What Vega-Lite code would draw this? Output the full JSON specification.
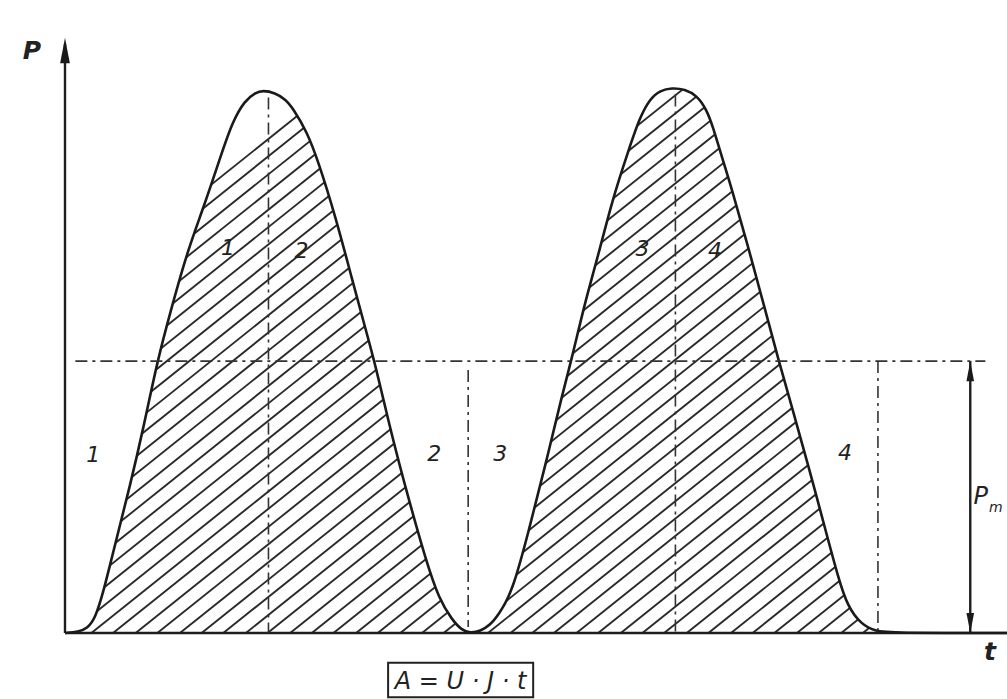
{
  "$schema": "https://vega.github.io/schema/vega-lite/v6.json",
  "width": 942,
  "height": 595,
  "autosize": "none",
  "padding": {"left": 65, "top": 38, "right": 0, "bottom": 66},
  "background": "white",
  "config": {"view": {"stroke": null}},
  "datasets": {
    "curve": [
      {"t": 0, "p": 0}, {"t": 0.14, "p": 0.02}, {"t": 0.24, "p": 0.08}, {"t": 0.32, "p": 0.25},
      {"t": 0.40, "p": 0.64}, {"t": 0.53, "p": 1.48}, {"t": 0.69, "p": 2.47}, {"t": 0.84, "p": 3.50},
      {"t": 0.98, "p": 4.57}, {"t": 1.13, "p": 5.46}, {"t": 1.30, "p": 6.42}, {"t": 1.48, "p": 7.19},
      {"t": 1.66, "p": 8.05}, {"t": 1.78, "p": 8.60}, {"t": 1.91, "p": 8.95}, {"t": 2.02, "p": 9.08},
      {"t": 2.10, "p": 9.12}, {"t": 2.23, "p": 9.08}, {"t": 2.34, "p": 8.97}, {"t": 2.42, "p": 8.82},
      {"t": 2.57, "p": 8.42}, {"t": 2.69, "p": 7.92}, {"t": 2.87, "p": 7.01},
      {"t": 3.05, "p": 5.93}, {"t": 3.19, "p": 5.11}, {"t": 3.29, "p": 4.54}, {"t": 3.47, "p": 3.31},
      {"t": 3.65, "p": 2.24}, {"t": 3.83, "p": 1.23}, {"t": 3.97, "p": 0.57}, {"t": 4.11, "p": 0.22},
      {"t": 4.21, "p": 0.05}, {"t": 4.30, "p": 0}, {"t": 4.41, "p": 0.03}, {"t": 4.51, "p": 0.13},
      {"t": 4.60, "p": 0.30}, {"t": 4.75, "p": 0.69}, {"t": 4.92, "p": 1.70}, {"t": 5.10, "p": 2.82},
      {"t": 5.28, "p": 4.02}, {"t": 5.38, "p": 4.61}, {"t": 5.52, "p": 5.56}, {"t": 5.66, "p": 6.34},
      {"t": 5.81, "p": 7.28}, {"t": 5.98, "p": 8.10}, {"t": 6.10, "p": 8.66}, {"t": 6.21, "p": 8.98},
      {"t": 6.32, "p": 9.12}, {"t": 6.44, "p": 9.16}, {"t": 6.58, "p": 9.14}, {"t": 6.71, "p": 9.03},
      {"t": 6.81, "p": 8.80}, {"t": 6.88, "p": 8.50}, {"t": 6.95, "p": 8.12},
      {"t": 7.08, "p": 7.46}, {"t": 7.25, "p": 6.50}, {"t": 7.43, "p": 5.45}, {"t": 7.57, "p": 4.61},
      {"t": 7.72, "p": 3.78}, {"t": 7.89, "p": 2.82}, {"t": 8.07, "p": 1.75}, {"t": 8.21, "p": 0.92},
      {"t": 8.31, "p": 0.44}, {"t": 8.45, "p": 0.15}, {"t": 8.60, "p": 0.03}, {"t": 8.76, "p": 0},
      {"t": 10, "p": 0}
    ],
    "hatch": [
      {"a": -4.40, "b": 3.50}, {"a": -4.17, "b": 3.73}, {"a": -3.93, "b": 3.97}, {"a": -3.70, "b": 4.20},
      {"a": -3.46, "b": 4.44}, {"a": -3.23, "b": 4.67}, {"a": -3.00, "b": 4.90}, {"a": -2.76, "b": 5.14},
      {"a": -2.53, "b": 5.37}, {"a": -2.29, "b": 5.61}, {"a": -2.06, "b": 5.84}, {"a": -1.83, "b": 6.07},
      {"a": -1.59, "b": 6.31}, {"a": -1.36, "b": 6.54}, {"a": -1.12, "b": 6.78}, {"a": -0.89, "b": 7.01},
      {"a": -0.66, "b": 7.24}, {"a": -0.42, "b": 7.48}, {"a": -0.19, "b": 7.71}, {"a": 0.05, "b": 7.95},
      {"a": 0.28, "b": 8.18}, {"a": 0.51, "b": 8.41}, {"a": 0.75, "b": 8.65}, {"a": 0.98, "b": 8.88},
      {"a": 1.22, "b": 9.12}, {"a": 1.45, "b": 9.35}, {"a": 1.68, "b": 9.58}, {"a": 1.92, "b": 9.82},
      {"a": 2.15, "b": 10.05}, {"a": 2.39, "b": 10.29}, {"a": 2.62, "b": 10.52}, {"a": 2.85, "b": 10.75},
      {"a": 3.09, "b": 10.99}, {"a": 3.32, "b": 11.22}, {"a": 3.56, "b": 11.46}, {"a": 3.79, "b": 11.69},
      {"a": 4.02, "b": 11.92}, {"a": 4.26, "b": 12.16}, {"a": 4.49, "b": 12.39}, {"a": 4.73, "b": 12.63},
      {"a": 4.96, "b": 12.86}, {"a": 5.19, "b": 13.09}, {"a": 5.43, "b": 13.33}, {"a": 5.66, "b": 13.56},
      {"a": 5.90, "b": 13.80}, {"a": 6.13, "b": 14.03}, {"a": 6.36, "b": 14.26}, {"a": 6.60, "b": 14.50},
      {"a": 6.83, "b": 14.73}, {"a": 7.07, "b": 14.97}, {"a": 7.30, "b": 15.20}, {"a": 7.53, "b": 15.43},
      {"a": 7.77, "b": 15.67}, {"a": 8.00, "b": 15.90}, {"a": 8.24, "b": 16.14}, {"a": 8.47, "b": 16.37},
      {"a": 8.70, "b": 16.60}, {"a": 8.94, "b": 16.84}, {"a": 9.17, "b": 17.07}
    ],
    "dashes": [
      {"t1": 0.11, "p1": 4.57, "t2": 9.77, "p2": 4.57},
      {"t1": 2.16, "p1": 9.0, "t2": 2.16, "p2": 0},
      {"t1": 4.28, "p1": 4.42, "t2": 4.28, "p2": 0.1},
      {"t1": 6.48, "p1": 9.05, "t2": 6.48, "p2": 0},
      {"t1": 8.63, "p1": 4.57, "t2": 8.63, "p2": 0.05}
    ],
    "solids": [
      {"t1": 0, "p1": 0, "t2": 0, "p2": 9.9},
      {"t1": 0, "p1": 0, "t2": 10, "p2": 0},
      {"t1": 9.61, "p1": 4.57, "t2": 9.61, "p2": 0}
    ],
    "dimarrows": [
      {"t": 9.61, "p": 4.40, "dir": "up"},
      {"t": 9.61, "p": 0.17, "dir": "down"}
    ],
    "axisarrow": [
      {"t": 0, "p": 9.79, "dir": "up"}
    ],
    "nums": [
      {"t": 0.30, "p": 2.99, "label": "1"},
      {"t": 3.92, "p": 3.01, "label": "2"},
      {"t": 4.62, "p": 3.01, "label": "3"},
      {"t": 8.28, "p": 3.03, "label": "4"},
      {"t": 1.73, "p": 6.47, "label": "1"},
      {"t": 2.51, "p": 6.42, "label": "2"},
      {"t": 6.13, "p": 6.45, "label": "3"},
      {"t": 6.90, "p": 6.42, "label": "4"}
    ],
    "bigletters": [
      {"t": -0.35, "p": 9.78, "label": "P"},
      {"t": 9.82, "p": -0.32, "label": "t"}
    ],
    "pm": [
      {"t": 9.72, "p": 2.29, "label": "P"}
    ],
    "sub": [
      {"t": 9.88, "p": 2.10, "label": "m"}
    ],
    "formula": [
      {"t": 4.20, "p": -0.83, "label": "A = U · J · t"}
    ],
    "box": [
      {"t1": 3.43, "t2": 4.97, "p1": -0.50, "p2": -1.08}
    ]
  },
  "layer": [
    {
      "data": {"name": "hatch"},
      "mark": {"type": "rule", "clip": true, "color": "#2a2a2a", "strokeWidth": 1.9},
      "encoding": {
        "x": {"field": "a", "type": "quantitative", "scale": {"domain": [0, 10], "nice": false, "zero": false}, "axis": null},
        "x2": {"field": "b"},
        "y": {"datum": 0, "type": "quantitative", "scale": {"domain": [0, 10], "nice": false, "zero": false}, "axis": null},
        "y2": {"datum": 10}
      }
    },
    {
      "data": {"name": "curve"},
      "mark": {"type": "area", "interpolate": "basis", "color": "white", "opacity": 1, "clip": true},
      "encoding": {
        "x": {"field": "t", "type": "quantitative"},
        "y": {"field": "p", "type": "quantitative"},
        "y2": {"datum": 10.5}
      }
    },
    {
      "data": {"name": "solids"},
      "mark": {"type": "rule", "color": "#1e1e1e", "strokeWidth": 2.4},
      "encoding": {
        "x": {"field": "t1", "type": "quantitative"},
        "y": {"field": "p1", "type": "quantitative"},
        "x2": {"field": "t2"},
        "y2": {"field": "p2"}
      }
    },
    {
      "data": {"name": "curve"},
      "mark": {"type": "line", "interpolate": "basis", "color": "#1a1a1a", "strokeWidth": 2.6},
      "encoding": {
        "x": {"field": "t", "type": "quantitative"},
        "y": {"field": "p", "type": "quantitative"}
      }
    },
    {
      "data": {"name": "dashes"},
      "mark": {"type": "rule", "color": "#333333", "strokeWidth": 1.6, "strokeDash": [12, 5, 3, 5]},
      "encoding": {
        "x": {"field": "t1", "type": "quantitative"},
        "y": {"field": "p1", "type": "quantitative"},
        "x2": {"field": "t2"},
        "y2": {"field": "p2"}
      }
    },
    {
      "data": {"name": "axisarrow"},
      "mark": {"type": "point", "filled": true, "color": "#1a1a1a", "opacity": 1, "size": 650},
      "encoding": {
        "x": {"field": "t", "type": "quantitative"},
        "y": {"field": "p", "type": "quantitative"},
        "shape": {"field": "dir", "type": "nominal", "scale": {"domain": ["up", "down"], "range": ["M0,-1L0.38,1L-0.38,1Z", "M0,1L0.38,-1L-0.38,-1Z"]}, "legend": null}
      }
    },
    {
      "data": {"name": "dimarrows"},
      "mark": {"type": "point", "filled": true, "color": "#1a1a1a", "opacity": 1, "size": 400},
      "encoding": {
        "x": {"field": "t", "type": "quantitative"},
        "y": {"field": "p", "type": "quantitative"},
        "shape": {"field": "dir", "type": "nominal", "legend": null}
      }
    },
    {
      "data": {"name": "nums"},
      "mark": {"type": "text", "font": "DejaVu Sans", "fontStyle": "italic", "fontSize": 22, "color": "#222222", "align": "center", "baseline": "middle"},
      "encoding": {
        "x": {"field": "t", "type": "quantitative"},
        "y": {"field": "p", "type": "quantitative"},
        "text": {"field": "label"}
      }
    },
    {
      "data": {"name": "bigletters"},
      "mark": {"type": "text", "font": "DejaVu Sans", "fontStyle": "italic", "fontWeight": "bold", "fontSize": 25, "color": "#222222", "align": "center", "baseline": "middle"},
      "encoding": {
        "x": {"field": "t", "type": "quantitative"},
        "y": {"field": "p", "type": "quantitative"},
        "text": {"field": "label"}
      }
    },
    {
      "data": {"name": "pm"},
      "mark": {"type": "text", "font": "DejaVu Sans", "fontStyle": "italic", "fontSize": 24, "color": "#222222", "align": "center", "baseline": "middle"},
      "encoding": {
        "x": {"field": "t", "type": "quantitative"},
        "y": {"field": "p", "type": "quantitative"},
        "text": {"field": "label"}
      }
    },
    {
      "data": {"name": "sub"},
      "mark": {"type": "text", "font": "DejaVu Sans", "fontStyle": "italic", "fontSize": 14, "color": "#222222", "align": "center", "baseline": "middle"},
      "encoding": {
        "x": {"field": "t", "type": "quantitative"},
        "y": {"field": "p", "type": "quantitative"},
        "text": {"field": "label"}
      }
    },
    {
      "data": {"name": "box"},
      "mark": {"type": "rect", "fill": "white", "stroke": "#222222", "strokeWidth": 2},
      "encoding": {
        "x": {"field": "t1", "type": "quantitative"},
        "x2": {"field": "t2"},
        "y": {"field": "p1", "type": "quantitative"},
        "y2": {"field": "p2"}
      }
    },
    {
      "data": {"name": "formula"},
      "mark": {"type": "text", "font": "DejaVu Sans", "fontStyle": "italic", "fontSize": 24, "color": "#222222", "align": "center", "baseline": "middle"},
      "encoding": {
        "x": {"field": "t", "type": "quantitative"},
        "y": {"field": "p", "type": "quantitative"},
        "text": {"field": "label"}
      }
    }
  ]
}
